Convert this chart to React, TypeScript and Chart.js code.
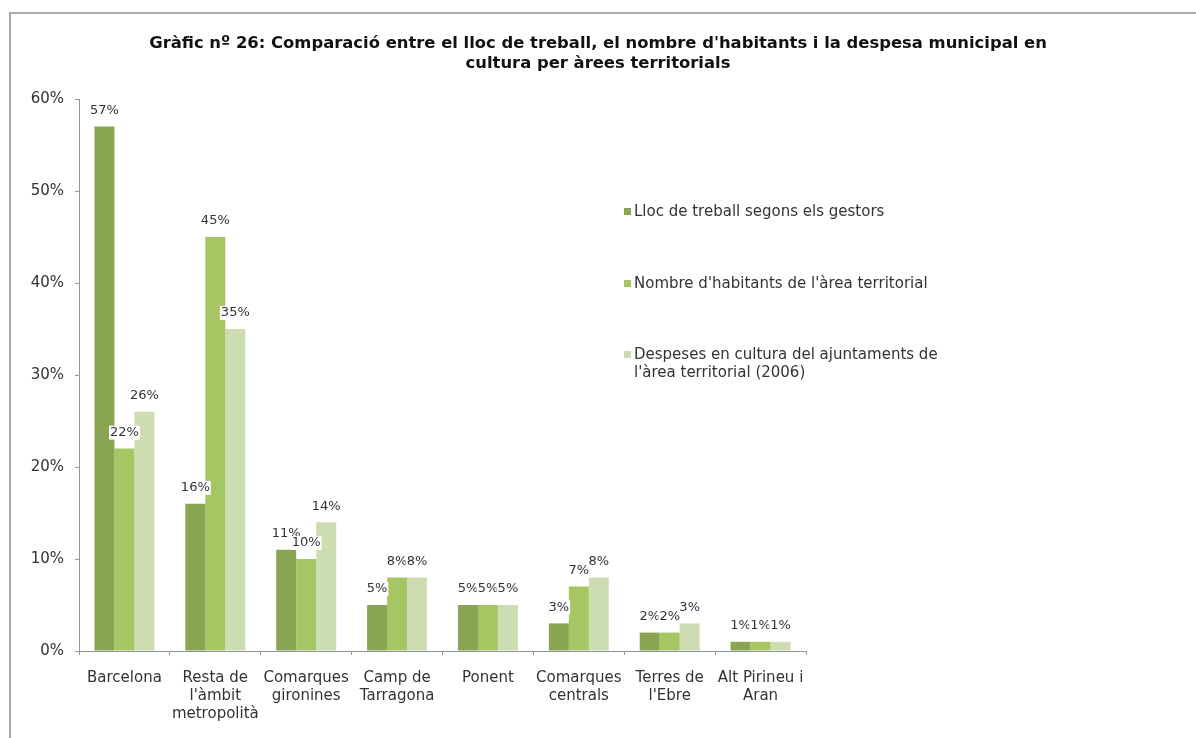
import { useEffect, useRef } from 'react';
import { Chart, registerables } from 'chart.js';

Chart.register(...registerables);

const categories: string[][] = [
  ['Barcelona'],
  ['Resta de', "l'àmbit", 'metropolità'],
  ['Comarques', 'gironines'],
  ['Camp de', 'Tarragona'],
  ['Ponent'],
  ['Comarques', 'centrals'],
  ['Terres de', "l'Ebre"],
  ['Alt Pirineu i', 'Aran'],
];

const seriesNames = [
  'Lloc de treball segons els gestors',
  "Nombre d'habitants de l'àrea territorial",
  "Despeses en cultura del ajuntaments de l'àrea territorial (2006)",
];

const legendLines: string[][] = [
  ['Lloc de treball segons els gestors'],
  ["Nombre d'habitants de l'àrea territorial"],
  ['Despeses en cultura del ajuntaments de', "l'àrea territorial (2006)"],
];

const llocTreball = [57, 16, 11, 5, 5, 3, 2, 1];
const nombreHabitants = [22, 45, 10, 8, 5, 7, 2, 1];
const despesesCultura = [26, 35, 14, 8, 5, 8, 3, 1];

const seriesColors = ['#89a553', '#a6c663', '#cedcb1'];

const yMin = 0;
const yMax = 60;
const yStep = 10;

const titleLines = [
  "Gràfic nº 26: Comparació entre el lloc de treball, el nombre d'habitants i la despesa municipal en",
  'cultura per àrees territorials',
];

const FONT = '"DejaVu Sans", "Liberation Sans", Arial, sans-serif';
const TEXT = '#333333';
const AXIS = '#8e97a6';

const titlePlugin = {
  id: 'customTitle',
  afterDraw(chart: any) {
    const ctx = chart.ctx;
    ctx.save();
    ctx.font = `bold 16.4px ${FONT}`;
    ctx.fillStyle = '#111111';
    ctx.textAlign = 'center';
    ctx.textBaseline = 'middle';
    titleLines.forEach((line, i) => {
      ctx.fillText(line, 598, 44 + i * 20);
    });
    ctx.restore();
  },
};

const legendPlugin = {
  id: 'customLegend',
  afterDraw(chart: any) {
    const ctx = chart.ctx;
    ctx.save();
    ctx.font = `15px ${FONT}`;
    ctx.textAlign = 'left';
    ctx.textBaseline = 'middle';
    const ys = [212, 284, 355];
    chart.data.datasets.forEach((ds: any, i: number) => {
      const y = ys[i];
      ctx.fillStyle = ds.backgroundColor;
      ctx.fillRect(624, y - 4, 7, 7);
      ctx.fillStyle = TEXT;
      legendLines[i].forEach((line, k) => {
        ctx.fillText(line, 634, y + k * 18);
      });
    });
    ctx.restore();
  },
};

const dataLabelPlugin = {
  id: 'dataLabels',
  afterDatasetsDraw(chart: any) {
    const ctx = chart.ctx;
    ctx.save();
    ctx.font = `13px ${FONT}`;
    ctx.textAlign = 'center';
    ctx.textBaseline = 'middle';
    chart.data.datasets.forEach((ds: any, i: number) => {
      const meta = chart.getDatasetMeta(i);
      meta.data.forEach((bar: any, j: number) => {
        const text = `${ds.data[j]}%`;
        const w = ctx.measureText(text).width;
        const y = bar.y - 16;
        ctx.fillStyle = '#ffffff';
        ctx.fillRect(bar.x - w / 2 - 1, y - 7, w + 2, 14);
        ctx.fillStyle = TEXT;
        ctx.fillText(text, bar.x, y);
      });
    });
    ctx.restore();
  },
};

export default function App() {
  const canvasRef = useRef<HTMLCanvasElement | null>(null);

  useEffect(() => {
    const canvas = canvasRef.current;
    if (!canvas) return;
    const values = [llocTreball, nombreHabitants, despesesCultura];
    const chart = new Chart(canvas, {
      type: 'bar',
      data: {
        labels: categories,
        datasets: seriesNames.map((name, i) => ({
          label: name,
          data: values[i],
          backgroundColor: seriesColors[i],
          borderWidth: 0,
          barPercentage: 1,
          categoryPercentage: 0.66,
        })),
      },
      options: {
        animation: false,
        responsive: false,
        maintainAspectRatio: false,
        devicePixelRatio: 1,
        layout: { padding: { left: 0, right: 390, top: 99, bottom: 0 } },
        plugins: {
          legend: { display: false },
          title: { display: false },
          tooltip: { enabled: false },
        },
        scales: {
          x: {
            offset: true,
            grid: {
              offset: true,
              drawOnChartArea: false,
              drawTicks: true,
              tickLength: 4,
              color: AXIS,
            },
            border: { color: AXIS, width: 1 },
            ticks: {
              color: TEXT,
              font: { family: FONT, size: 15, lineHeight: 1.2 },
              padding: 14,
              maxRotation: 0,
              minRotation: 0,
              autoSkip: false,
            },
            afterFit: (scale: any) => {
              scale.height = 87;
            },
          },
          y: {
            min: yMin,
            max: yMax,
            grid: {
              drawOnChartArea: false,
              drawTicks: true,
              tickLength: 4,
              color: AXIS,
            },
            border: { color: AXIS, width: 1 },
            ticks: {
              stepSize: yStep,
              color: TEXT,
              font: { family: FONT, size: 15 },
              padding: 11,
              callback: (v: any) => `${v}%`,
            },
            afterFit: (scale: any) => {
              scale.width = 79;
            },
          },
        },
      },
      plugins: [dataLabelPlugin, legendPlugin, titlePlugin],
    });
    return () => chart.destroy();
  }, []);

  return (
    <>
      <div
        style={{
          position: 'fixed',
          left: 9,
          top: 12,
          right: -20,
          bottom: -20,
          border: '2px solid #a9a9a9',
          background: '#ffffff',
        }}
      />
      <canvas
        ref={canvasRef}
        width={1196}
        height={738}
        style={{ position: 'fixed', left: 0, top: 0, width: 1196, height: 738 }}
      />
    </>
  );
}
